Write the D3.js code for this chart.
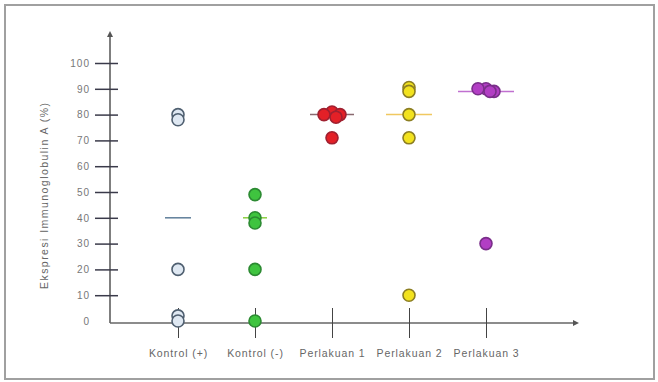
<!DOCTYPE html>
<html><head><meta charset="utf-8">
<script src="https://cdn.jsdelivr.net/npm/d3@7"></script>
<style>body{margin:0;background:#fff;}svg{display:block;}</style>
</head><body>
<script>
const categories = ["Kontrol (+)", "Kontrol (-)", "Perlakuan 1", "Perlakuan 2", "Perlakuan 3"];
const yTicks = [0, 10, 20, 30, 40, 50, 60, 70, 80, 90, 100];
// individual points per group
const kontrolPlus = [80, 78, 20, 2, 0];
const kontrolMinus = [49, 40, 38, 20, 0];
const perlakuan1 = [81, 80, 80, 79, 71];
const perlakuan2 = [90.5, 89, 80, 71, 10];
const perlakuan3 = [90, 90, 89, 89, 30];
const jitter1 = [0, -1, 1, 0.5, 0];
const jitter3 = [0, -1, 1, 0.5, 0];
const medians = [40, 40, 80, 80, 89];
const seriesValues = [kontrolPlus, kontrolMinus, perlakuan1, perlakuan2, perlakuan3];
const fills = ["#dfe8f2", "#3fc43f", "#e32027", "#f2e21e", "#b23ec4"];
const strokes = ["#4f5f70", "#2c8a32", "#a02030", "#8c7e22", "#7a2e8a"];
const medianColors = ["#5f7f9a", "#8ccf40", "#8a6a70", "#f0c860", "#c070d0"];

const W = 658, H = 382;
const svg = d3.select("body").append("svg").attr("width", W).attr("height", H);
svg.append("rect").attr("x", 5).attr("y", 5).attr("width", W - 9).attr("height", H - 8)
  .attr("fill", "#fff").attr("stroke", "#a0a0a0").attr("stroke-width", 2);

const y = d3.scaleLinear().domain([0, 100]).range([321, 63]);
const x = d3.scalePoint().domain(categories).range([178, 486]);
const axisX0 = 110, axisY0 = 323;
const font = "Liberation Sans, Arial, sans-serif";

svg.append("defs").append("marker").attr("id", "arr").attr("viewBox", "0 0 10 10")
  .attr("refX", 5).attr("refY", 5).attr("markerWidth", 4).attr("markerHeight", 4)
  .attr("orient", "auto").append("path").attr("d", "M0,0 L10,5 L0,10 z").attr("fill", "#555");
svg.append("line").attr("x1", axisX0).attr("y1", axisY0).attr("x2", axisX0).attr("y2", 34)
  .attr("stroke", "#555").attr("stroke-width", 1.5).attr("marker-end", "url(#arr)");
svg.append("line").attr("x1", axisX0).attr("y1", axisY0).attr("x2", 576).attr("y2", axisY0)
  .attr("stroke", "#666").attr("stroke-width", 1.5).attr("marker-end", "url(#arr)");

const yAxis = d3.axisLeft(y).tickValues(yTicks).tickSize(0).tickPadding(0);
const gy = svg.append("g").attr("transform", `translate(${axisX0},0)`).call(yAxis);
gy.select(".domain").remove();
gy.selectAll(".tick text").attr("x", -20).attr("fill", "#777").attr("font-size", 10)
  .attr("letter-spacing", 1).attr("font-family", font);
gy.selectAll(".tick").filter(d => d > 0).append("line")
  .attr("x1", -15).attr("x2", 8).attr("stroke", "#3a3a4a").attr("stroke-width", 1.5);

const xAxis = d3.axisBottom(x).tickSize(0).tickPadding(0);
const gx = svg.append("g").attr("transform", `translate(0,${axisY0})`).call(xAxis);
gx.select(".domain").remove();
gx.selectAll(".tick text").attr("y", 34).attr("dy", 0).attr("fill", "#666").attr("font-size", 10.5)
  .attr("letter-spacing", 0.9).attr("font-family", font);
gx.selectAll(".tick").append("line").attr("y1", -15).attr("y2", 15)
  .attr("stroke", "#444").attr("stroke-width", 1);

svg.append("text").attr("transform", "translate(48,196) rotate(-90)")
  .attr("text-anchor", "middle").attr("font-size", 10.5).attr("fill", "#666")
  .attr("font-family", font).attr("textLength", 186).attr("lengthAdjust", "spacing")
  .text("Ekspresi Immunoglobulin A (%)");

const halfW = [13, 12, 22, 23, 28];
categories.forEach((c, i) => {
  svg.append("line").attr("x1", x(c) - halfW[i]).attr("x2", x(c) + halfW[i])
    .attr("y1", y(medians[i])).attr("y2", y(medians[i]))
    .attr("stroke", medianColors[i]).attr("stroke-width", 1.5);
});

const jitters = [null, null, jitter1, null, jitter3];
categories.forEach((c, i) => {
  const vals = seriesValues[i];
  const jit = jitters[i];
  svg.append("g").selectAll("circle").data(vals).join("circle")
    .attr("cx", (d, k) => x(c) + (jit ? jit[k] * 8 : 0))
    .attr("cy", d => y(d))
    .attr("r", 6)
    .attr("fill", fills[i]).attr("stroke", strokes[i]).attr("stroke-width", 1.6);
});
</script>
</body></html>
